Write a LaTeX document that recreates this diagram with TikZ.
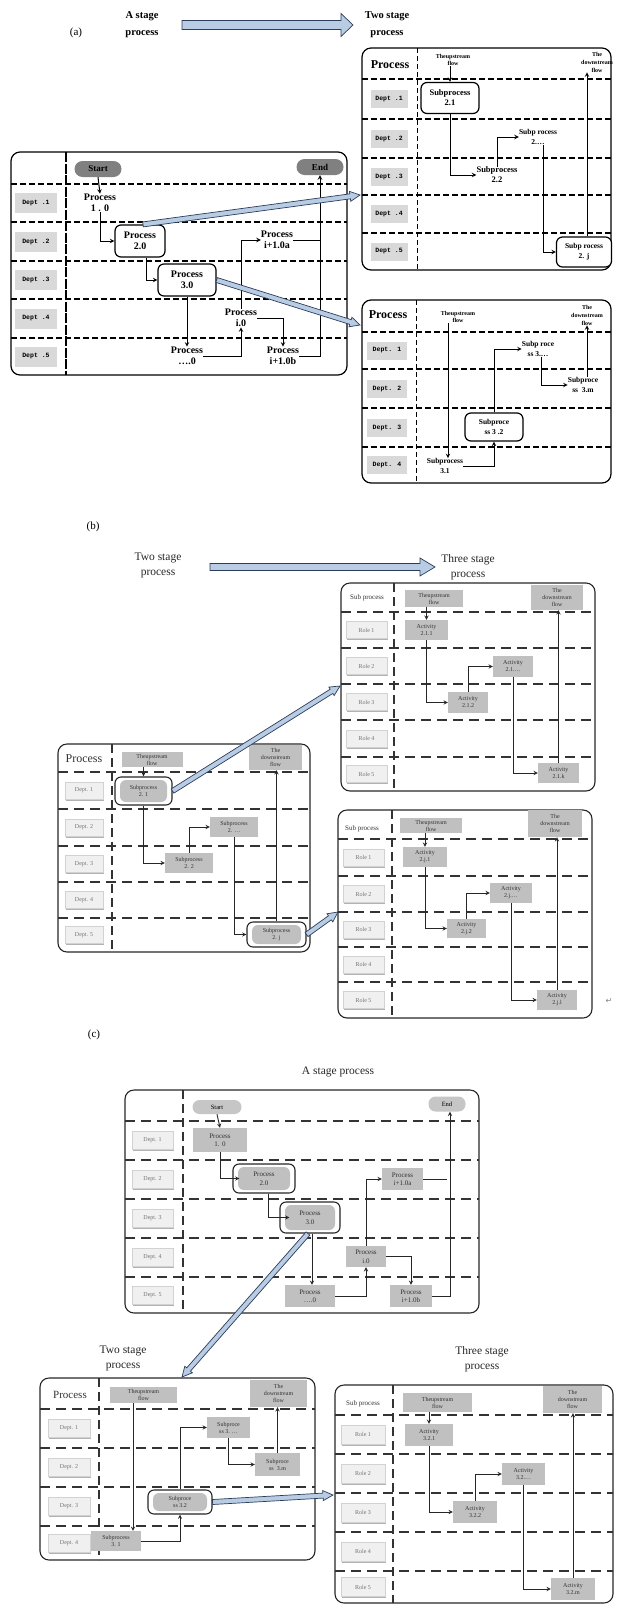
\documentclass[tikz,border=0pt]{standalone}
\usepackage{fontspec}
\setmainfont{Liberation Serif}
\newfontfamily\deptfont{Liberation Mono}
\newfontfamily\markfont{DejaVu Sans}
\usetikzlibrary{calc,shadows}

\definecolor{arrowblue}{RGB}{184,204,228}
\definecolor{arrowedge}{RGB}{45,60,90}
\definecolor{labelgray}{RGB}{217,217,217}
\definecolor{actgray}{RGB}{192,192,192}
\definecolor{termgray}{RGB}{128,128,128}

% fat blue arrow: from, to, half shaft, half head, head length
\newcommand{\bigarrow}[5]{%
  \coordinate (ba-h) at ($(#2)!#5!(#1)$);
  \filldraw[fill=arrowblue, draw=arrowedge, line width=0.7pt, line join=miter]
    ($(#1)!#3!90:(#2)$) -- ($(ba-h)!#3!90:(#2)$) -- ($(ba-h)!#4!90:(#2)$) -- (#2)
    -- ($(ba-h)!#4!-90:(#2)$) -- ($(ba-h)!#3!-90:(#2)$) -- ($(#1)!#3!-90:(#2)$) -- cycle;
}

\tikzset{
  lane/.style={draw, line width=1.2pt, rounded corners=9pt},
  rowdash/.style={line width=1.8pt, dash pattern=on 6pt off 3pt},
  coldash/.style={line width=1pt, dash pattern=on 5pt off 3pt},
  colheavy/.style={line width=2.8pt, dash pattern=on 10pt off 1.5pt},
  dept/.style={fill=labelgray, inner sep=0pt, font=\deptfont\bfseries\fontsize{6.5}{7}\selectfont},
  stagebold/.style={font=\bfseries\fontsize{10.5}{17}\selectfont, align=center},
  boldtxt/.style={font=\bfseries\fontsize{10}{11.5}\selectfont, align=center, inner sep=0pt},
  subtxt/.style={font=\bfseries\fontsize{8.5}{10}\selectfont, align=center, inner sep=0pt},
  flowtxt/.style={font=\bfseries\fontsize{6}{7.5}\selectfont, align=center, inner sep=0pt},
  rbox/.style={draw, line width=1.2pt, rounded corners=6pt, fill=white},
  term/.style={fill=termgray, rounded corners=8pt, minimum width=47pt, minimum height=16pt, inner sep=0pt, font=\bfseries\fontsize{9}{10}\selectfont},
  link/.style={-stealth, line width=1pt},
  % (b) and (c)
  lane2/.style={draw=black!85, line width=1.1pt, rounded corners=9pt},
  rowdash2/.style={line width=1.6pt, draw=black!80, dash pattern=on 10pt off 6pt},
  coldash2/.style={line width=1.6pt, draw=black!80, dash pattern=on 9pt off 5pt},
  role/.style={fill=gray!12, draw=gray!35, inner sep=0pt, text=black!55, font=\fontsize{6}{7}\selectfont,
    drop shadow={shadow xshift=1.2pt, shadow yshift=-1.5pt, fill=gray!60, opacity=1}},
  act/.style={fill=actgray, inner sep=0pt, align=center, font=\fontsize{6}{7}\selectfont, text=black!80},
  actr/.style={draw=black!85, line width=1.1pt, rounded corners=6pt, inner sep=0pt, align=center,
    font=\fontsize{6}{7}\selectfont, text=black!80, fill=white,
    path picture={\fill[actgray] ([xshift=5pt,yshift=-3pt]path picture bounding box.north west)
      rectangle ([xshift=-5pt,yshift=3pt]path picture bounding box.south east);}},
  term2/.style={fill=gray!45, rounded corners=7pt, inner sep=0pt, font=\fontsize{6.5}{7}\selectfont},
  stagetxt/.style={font=\fontsize{11.5}{15}\selectfont, align=center, text=black!85},
  link2/.style={-stealth, line width=0.9pt, draw=black!85},
}

\begin{document}
\begin{tikzpicture}[x=1pt,y=-1pt]
\useasboundingbox (0,0) rectangle (616,1606);

% ================= (a) =================
\node[font=\fontsize{11}{13}\selectfont] (tagA) at (76,33) {(a)};
\node[stagebold] (oneA) at (142,25) {A stage\\process};
\node[stagebold] (twoA) at (387,25) {Two stage\\process};
\coordinate (hdA1) at (182,25);
\coordinate (hdA2) at (353,25);
\bigarrow{hdA1}{hdA2}{4.5pt}{11.5pt}{12pt}

% a stage lane
\draw[lane] (11,152) rectangle (347,375);
\foreach \y in {184,222,261,299,338} \draw[rowdash] (11,\y) -- (347,\y);
\draw[colheavy] (66,152) -- (66,375);
\foreach \d/\y in {1/203,2/241.5,3/280,4/318.5,5/356.5}
  \node[dept, minimum width=42pt, minimum height=20pt] (dA\d) at (36,\y) {Dept .\d};
\node[term] (startA) at (98,169) {Start};
\node[term] (endA) at (320,167) {End};
\node[boldtxt] (pA10) at (100,203) {Process\\1 . 0};
\node[boldtxt, rbox, minimum width=50pt, minimum height=32pt] (pA20) at (140,241) {Process\\2.0};
\node[boldtxt, rbox, minimum width=58pt, minimum height=32pt] (pA30) at (187,280) {Process\\3.0};
\node[boldtxt] (pAd0) at (187,356) {Process\\….0};
\node[boldtxt] (pAi0) at (241,318) {Process\\i.0};
\node[boldtxt] (pAi1a) at (277,240) {Process\\i+1.0a};
\node[boldtxt] (pAi1b) at (283,356) {Process\\i+1.0b};
\draw[link] (startA.south) -- (pA10.north);
\draw[link] (pA10.south) |- (pA20.west);
\draw[link] ([xshift=6pt]pA20.south) |- (pA30.west);
\draw[link] (pA30.south) -- (pAd0.north);
\draw[link] (pAd0.east) -| (pAi0.south);
\draw[link] (pAi0.north) |- (pAi1a.west);
\draw[link] (pAi0.east) -| (pAi1b.north);
\draw[line width=1pt] (pAi1a.east) -- (pAi1a.east -| endA.south);
\draw[link] (pAi1b.east) -| (endA.south);

% two stage lane, first
\draw[lane] (362,48) rectangle (611,270);
\foreach \y in {79,119,158,195,233} \draw[rowdash] (362,\y) -- (611,\y);
\draw[coldash] (417,48) -- (417,270);
\node[font=\bfseries\fontsize{12}{13}\selectfont] (hA2) at (390,65) {Process};
\foreach \d/\y in {1/99,2/138.5,3/176.5,4/214,5/251.5}
  \node[dept, minimum width=37pt, minimum height=18pt] (dA2\d) at (389,\y) {Dept .\d};
\node[flowtxt] (upA2) at (453,60) {Theupstream\\flow};
\node[flowtxt, font=\bfseries\fontsize{6}{8}\selectfont] (dnA2) at (597,62) {The\\downstream\\flow};
\node[subtxt, rbox, minimum width=58pt, minimum height=31pt, inner sep=0pt] (sA21) at (450,98) {Subprocess\\2.1};
\node[subtxt] (sA22) at (497,175) {Subprocess\\2.2};
\node[subtxt, font=\bfseries\fontsize{7.5}{10}\selectfont] (sA2d) at (538,137) {Subp rocess\\2.…};
\node[subtxt, rbox, minimum width=55pt, minimum height=30pt, inner sep=0pt, font=\bfseries\fontsize{7.5}{10}\selectfont] (sA2j) at (584,252) {Subp rocess\\2. j};
\draw[link] (sA21.north |- upA2.south) -- (sA21.north);
\draw[link] (sA21.south) |- (sA22.west);
\draw[link] (sA22.north) |- (sA2d.west);
\draw[link] ([xshift=5pt]sA2d.south) |- (sA2j.west);
\draw[link] ([xshift=3pt]sA2j.north) -- ([xshift=3pt]sA2j.north |- dnA2.south);

% two stage lane, second
\draw[lane] (362,300) rectangle (611,483);
\foreach \y in {332,369,408,447} \draw[rowdash] (362,\y) -- (611,\y);
\draw[coldash] (416,300) -- (416,483);
\node[font=\bfseries\fontsize{12}{13}\selectfont] (hA3) at (388,315) {Process};
\foreach \d/\y in {1/350.5,2/388.5,3/427.5,4/465}
  \node[dept, minimum width=40pt, minimum height=18pt] (dA3\d) at (387,\y) {Dept. \d};
\node[flowtxt] (upA3) at (458,317) {Theupstream\\flow};
\node[flowtxt, font=\bfseries\fontsize{6}{8}\selectfont] (dnA3) at (587,315) {The\\downstream\\flow};
\node[subtxt, font=\bfseries\fontsize{7.5}{10}\selectfont] (sA31) at (445,466) {Subprocess\\3.1};
\node[subtxt, rbox, minimum width=58pt, minimum height=28pt, inner sep=0pt, font=\bfseries\fontsize{7.5}{10}\selectfont] (sA32) at (494,427) {Subproce\\ss 3 .2};
\node[subtxt, font=\bfseries\fontsize{7.5}{10}\selectfont] (sA3d) at (538,349) {Subp roce\\ss 3.…};
\node[subtxt, font=\bfseries\fontsize{7.5}{10}\selectfont] (sA3m) at (583,385) {Subproce\\ss\ \ 3.m};
\draw[link] ([xshift=3pt]sA31.north |- upA3.south) -- ([xshift=3pt]sA31.north);
\draw[link] (sA31.east) -| (sA32.south);
\draw[link] (sA32.north) |- (sA3d.west);
\draw[link] ([xshift=3pt]sA3d.south) |- (sA3m.west);
\draw[link] ([xshift=4pt]sA3m.north) -- ([xshift=4pt]sA3m.north |- dnA3.south);

% zoom arrows
\coordinate (outA20) at ([xshift=3pt]pA20.north);
\coordinate (inA2) at (360,195);
\coordinate (inA3) at (360,325);
\bigarrow{outA20}{inA2}{2.5pt}{5pt}{10pt}
\bigarrow{pA30.east}{inA3}{2.5pt}{5pt}{10pt}

% ================= (b) =================
\node[font=\fontsize{11}{13}\selectfont] (tagB) at (93,527) {(b)};
\node[stagetxt] (twoB) at (158,565) {Two stage\\process};
\node[stagetxt] (threeB) at (468,567) {Three stage\\process};
\coordinate (hdB1) at (210,567);
\coordinate (hdB2) at (435,567);
\bigarrow{hdB1}{hdB2}{3.5pt}{9pt}{15pt}

% two stage lane
\draw[lane2] (58,744) rectangle (310,952);
\foreach \y in {772,809,846,882,918} \draw[rowdash2] (58,\y) -- (310,\y);
\draw[coldash2] (112,744) -- (112,952);
\node[font=\fontsize{12}{13}\selectfont, text=black!80] (hB1) at (84,759) {Process};
\foreach \d/\y in {1/790.5,2/827.5,3/864,4/900,5/935}
  \node[role, minimum width=38pt, minimum height=17pt] (dB\d) at (84,\y) {Dept. \d};
\node[act, minimum width=61pt, minimum height=15pt] (upB1) at (152,759.5) {Theupstream\\flow};
\node[act, minimum width=53pt, minimum height=25pt] (dnB1) at (275.5,757.5) {The\\downstream\\flow};
\node[actr, minimum width=57pt, minimum height=28pt] (sB21) at (143.5,791) {Subprocess\\2. 1};
\node[act, minimum width=48pt, minimum height=20pt] (sB22) at (189,863) {Subprocess\\2. 2};
\node[act, minimum width=48pt, minimum height=20pt] (sB2d) at (234,827) {Subprocess\\2. …};
\node[actr, minimum width=59pt, minimum height=25pt] (sB2j) at (276.5,934.5) {Subprocess\\2. j};
\draw[link2] (upB1.south -| sB21.north) -- (sB21.north);
\draw[link2] (sB21.south) |- (sB22.west);
\draw[link2] (sB22.north) |- (sB2d.west);
\draw[link2] (sB2d.south) |- (sB2j.west);
\draw[link2] (sB2j.north) -- (sB2j.north |- dnB1.south);

% three stage lane, first
\draw[lane2] (341,583) rectangle (595,791);
\foreach \y in {612,648,684,720,757} \draw[rowdash2] (341,\y) -- (595,\y);
\draw[coldash2] (394,583) -- (394,791);
\node[font=\fontsize{7}{8}\selectfont, text=black!80] (hB2) at (367,598) {Sub process};
\foreach \d/\y in {1/630,2/666,3/702,4/738.5,5/774}
  \node[role, minimum width=41pt, minimum height=17pt] (rB2\d) at (366.5,\y) {Role \d};
\node[act, minimum width=58pt, minimum height=17pt] (upB2) at (434,598.5) {Theupstream\\flow};
\node[act, minimum width=52pt, minimum height=25pt] (dnB2) at (557,597.5) {The\\downstream\\flow};
\node[act, minimum width=43pt, minimum height=20pt] (aB211) at (426.5,630) {Activity\\2.1.1};
\node[act, minimum width=40pt, minimum height=21pt] (aB212) at (468,702.5) {Activity\\2.1.2};
\node[act, minimum width=40pt, minimum height=21pt] (aB21d) at (513,666.5) {Activity\\2.1.…};
\node[act, minimum width=41pt, minimum height=20pt] (aB21k) at (558.5,773) {Activity\\2.1.k};
\draw[link2] (upB2.south -| aB211.north) -- (aB211.north);
\draw[link2] (aB211.south) |- (aB212.west);
\draw[link2] (aB212.north) |- (aB21d.west);
\draw[link2] (aB21d.south) |- (aB21k.west);
\draw[link2] (aB21k.north) -- (aB21k.north |- dnB2.south);

% three stage lane, second
\draw[lane2] (338,810) rectangle (592,1018);
\foreach \y in {839,876,912,947,982} \draw[rowdash2] (338,\y) -- (592,\y);
\draw[coldash2] (392,810) -- (392,1018);
\node[font=\fontsize{7}{8}\selectfont, text=black!80] (hB3) at (362,829) {Sub process};
\foreach \d/\y in {1/857.5,2/894,3/929.5,4/964.5,5/1000}
  \node[role, minimum width=41pt, minimum height=17pt] (rB3\d) at (363.5,\y) {Role \d};
\node[act, minimum width=62pt, minimum height=15pt] (upB3) at (431,825.5) {Theupstream\\flow};
\node[act, minimum width=54pt, minimum height=27pt] (dnB3) at (555,823.5) {The\\downstream\\flow};
\node[act, minimum width=44pt, minimum height=20pt] (aB2j1) at (425,857) {Activity\\2.j.1};
\node[act, minimum width=39pt, minimum height=19pt] (aB2j2) at (466.5,928.5) {Activity\\2.j.2};
\node[act, minimum width=42pt, minimum height=20pt] (aB2jd) at (511,893) {Activity\\2.j.…};
\node[act, minimum width=40pt, minimum height=20pt] (aB2jl) at (557,1000) {Activity\\2.j.l};
\draw[link2] (upB3.south -| aB2j1.north) -- (aB2j1.north);
\draw[link2] (aB2j1.south) |- (aB2j2.west);
\draw[link2] (aB2j2.north) |- (aB2jd.west);
\draw[link2] (aB2jd.south) |- (aB2jl.west);
\draw[link2] (aB2jl.north) -- (aB2jl.north |- dnB3.south);
\node[font=\markfont\fontsize{8}{9}\selectfont, text=gray] (retB) at (609,1001) {↵};

% zoom arrows
\coordinate (inB2) at (340,686);
\coordinate (inB3) at (338,912);
\bigarrow{sB21.east}{inB2}{2.5pt}{5pt}{10pt}
\bigarrow{sB2j.east}{inB3}{2.5pt}{5pt}{10pt}

% ================= (c) =================
\node[font=\fontsize{11}{13}\selectfont] (tagC) at (94,1035) {(c)};
\node[stagetxt] (oneC) at (338,1072) {A stage process};
\node[stagetxt] (twoC) at (123,1358) {Two stage\\process};
\node[stagetxt] (threeC) at (482,1359) {Three stage\\process};

% a stage lane
\draw[lane2] (125,1090) rectangle (479,1313);
\foreach \y in {1121,1160,1199,1238,1277} \draw[rowdash2] (125,\y) -- (479,\y);
\draw[coldash2] (183,1090) -- (183,1313);
\foreach \d/\y in {1/1140.5,2/1179.5,3/1218.5,4/1257.5,5/1295}
  \node[role, minimum width=41pt, minimum height=18pt] (dC\d) at (152.5,\y) {Dept. \d};
\node[term2, minimum width=49pt, minimum height=14pt] (startC) at (217,1107) {Start};
\node[term2, minimum width=37pt, minimum height=15pt] (endC) at (447,1104) {End};
\node[act, minimum width=54pt, minimum height=24pt, font=\fontsize{7}{8.5}\selectfont] (pC10) at (220,1140) {Process\\1. 0};
\node[actr, minimum width=62pt, minimum height=29pt, font=\fontsize{7}{8.5}\selectfont] (pC20) at (264,1178.5) {Process\\2.0};
\node[actr, minimum width=60pt, minimum height=31pt, font=\fontsize{7}{8.5}\selectfont] (pC30) at (310,1217.5) {Process\\3.0};
\node[act, minimum width=50pt, minimum height=22pt, font=\fontsize{7}{8.5}\selectfont] (pCd0) at (310,1296) {Process\\….0};
\node[act, minimum width=40pt, minimum height=21pt, font=\fontsize{7}{8.5}\selectfont] (pCi0) at (366,1256.5) {Process\\i.0};
\node[act, minimum width=41pt, minimum height=22pt, font=\fontsize{7}{8.5}\selectfont] (pCi1a) at (402.5,1179) {Process\\i+1.0a};
\node[act, minimum width=42pt, minimum height=22pt, font=\fontsize{7}{8.5}\selectfont] (pCi1b) at (411,1296) {Process\\i+1.0b};
\draw[link2] (startC.south) -- (pC10.north);
\draw[link2] (pC10.south) |- ([xshift=7pt]pC20.west);
\draw[link2] ([xshift=4pt]pC20.south) |- ([xshift=10pt]pC30.west);
\draw[link2] ([xshift=2pt]pC30.south) -- ([xshift=2pt]pC30.south |- pCd0.north);
\draw[link2] (pCd0.east) -| (pCi0.south);
\draw[link2] (pCi0.north) |- (pCi1a.west);
\draw[link2] (pCi0.east) -| (pCi1b.north);
\draw[line width=0.9pt, draw=black!85] (pCi1a.east) -- (pCi1a.east -| endC.south);
\draw[link2] (pCi1b.east) -| ([xshift=3pt]endC.south);

% two stage lane
\draw[lane2] (40,1378) rectangle (315,1560);
\foreach \y in {1409,1448,1487,1526} \draw[rowdash2] (40,\y) -- (315,\y);
\draw[coldash2] (99,1378) -- (99,1560);
\node[font=\fontsize{11}{13}\selectfont, text=black!80] (hC2) at (70,1395) {Process};
\foreach \d/\y in {1/1428.5,2/1467.5,3/1506.5,4/1543}
  \node[role, minimum width=42pt, minimum height=18pt] (dC2\d) at (69,\y) {Dept. \d};
\node[act, minimum width=67pt, minimum height=16pt] (upC2) at (143.5,1395) {Theupstream\\flow};
\node[act, minimum width=57pt, minimum height=27pt] (dnC2) at (278.5,1393.5) {The\\downstream\\flow};
\node[act, minimum width=50pt, minimum height=20pt] (sC31) at (116,1541) {Subprocess\\3. 1};
\node[actr, minimum width=64pt, minimum height=24pt] (sC32) at (180,1502) {Subproce\\ss 3.2};
\node[act, minimum width=43pt, minimum height=21pt] (sC3d) at (228.5,1427.5) {Subproce\\ss 3. …};
\node[act, minimum width=45pt, minimum height=23pt] (sC3m) at (277.5,1464.5) {Subproce\\ss\ \ 3.m};
\draw[link2] ([xshift=17pt]sC31.north |- upC2.south) -- ([xshift=17pt]sC31.north);
\draw[link2] (sC31.east) -| (sC32.south);
\draw[link2] (sC32.north) |- (sC3d.west);
\draw[link2] (sC3d.south) |- (sC3m.west);
\draw[link2] (sC3m.north) -- (sC3m.north |- dnC2.south);

% three stage lane
\draw[lane2] (335,1385) rectangle (613,1603);
\foreach \y in {1415,1454,1493,1532,1571} \draw[rowdash2] (335,\y) -- (613,\y);
\draw[coldash2] (393,1385) -- (393,1603);
\node[font=\fontsize{7}{8}\selectfont, text=black!80] (hC3) at (363,1404) {Sub process};
\foreach \d/\y in {1/1434.5,2/1473.5,3/1512.5,4/1551.5,5/1587}
  \node[role, minimum width=44pt, minimum height=19pt] (rC3\d) at (363,\y) {Role \d};
\node[act, minimum width=69pt, minimum height=19pt] (upC3) at (437.5,1402.5) {Theupstream\\flow};
\node[act, minimum width=59pt, minimum height=27pt] (dnC3) at (572.5,1399.5) {The\\downstream\\flow};
\node[act, minimum width=48pt, minimum height=22pt] (aC321) at (429,1435) {Activity\\3.2.1};
\node[act, minimum width=44pt, minimum height=22pt] (aC322) at (475,1512) {Activity\\3.2.2};
\node[act, minimum width=43pt, minimum height=22pt] (aC32d) at (523.5,1474) {Activity\\3.2.…};
\node[act, minimum width=44pt, minimum height=22pt] (aC32m) at (573,1589) {Activity\\3.2.m};
\draw[link2] (upC3.south -| aC321.north) -- (aC321.north);
\draw[link2] (aC321.south) |- (aC322.west);
\draw[link2] (aC322.north) |- (aC32d.west);
\draw[link2] (aC32d.south) |- (aC32m.west);
\draw[link2] (aC32m.north) -- (aC32m.north |- dnC3.south);

% zoom arrows
\coordinate (outC30) at ([xshift=-2pt]pC30.south);
\coordinate (inC2) at (182,1377);
\coordinate (inC3) at (333,1495);
\bigarrow{outC30}{inC2}{2.5pt}{5pt}{10pt}
\bigarrow{sC32.east}{inC3}{2.5pt}{5pt}{10pt}
\end{tikzpicture}
\end{document}
